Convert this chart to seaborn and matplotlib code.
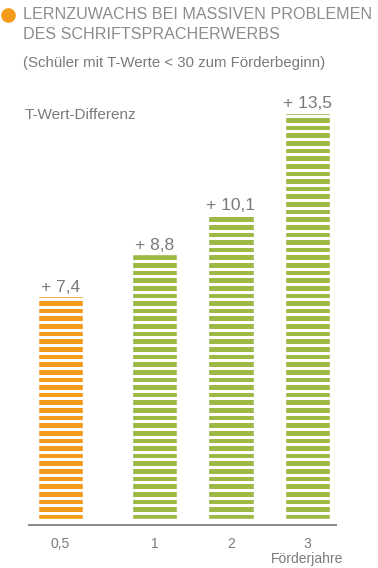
import pandas as pd
import matplotlib.pyplot as plt
from matplotlib.lines import Line2D
import seaborn as sns

# data
years = ["0,5", "1", "2", "3"]
t_diff = [7.4, 8.8, 10.1, 13.5]
value_labels = ["+ 7,4", "+ 8,8", "+ 10,1", "+ 13,5"]
tick_labels = ["0,5", "1", "2", "3\nFörderjahre"]

ORANGE = "#F49B1B"
GREEN = "#9BB944"
TXT = "#7a7a7a"

W, H = 378, 568
PX_PER_UNIT = 30.07      # vertical scale of the bars
PITCH = 7.63             # stripe pitch in px
GAP = 3.0                # white gap in px

sns.set_style("white")
plt.rcParams["font.family"] = ["Liberation Sans", "DejaVu Sans"]

fig = plt.figure(figsize=(W / 100, H / 100), dpi=100)
# axes from x=28..337 px, y=95..530 px
ax = fig.add_axes([28 / W, 1 - 530 / H, 309 / W, 435 / H])

df = pd.DataFrame({"years": years, "diff": t_diff})
sns.barplot(data=df, x="years", y="diff", hue="years",
            palette=[ORANGE, GREEN, GREEN, GREEN], legend=False,
            width=0.6, saturation=1, ax=ax)

ax.set_xlim(-0.654, 3.386)
ax.set_ylim(-11 / PX_PER_UNIT, 424 / PX_PER_UNIT)

# first bar sits a bit further left
shift = -0.229
bars = ax.patches
bars[0].set_x(bars[0].get_x() + shift)

# white stripes over each bar
for b in bars:
    h = b.get_height()
    ys = [(k * PITCH - GAP / 2) / PX_PER_UNIT
          for k in range(1, 80) if (k * PITCH - GAP / 2) / PX_PER_UNIT < h]
    ax.hlines(ys, b.get_x() - 0.01, b.get_x() + b.get_width() + 0.01,
              colors="white", linewidth=GAP * 0.72, zorder=2.5,
              antialiased=False)

for b, lab in zip(bars, value_labels):
    ax.annotate(lab, (b.get_x() + b.get_width() / 2, b.get_height()),
                xytext=(0, 3.5), textcoords="offset points",
                ha="center", va="baseline", fontsize=12.5, color=TXT, zorder=4)

# baseline
ax.axhline(-6 / PX_PER_UNIT, color="#8a8a8a", linewidth=1.4, zorder=3)

ax.set_xticks([shift, 1, 2, 3])
ax.set_xticklabels(tick_labels, fontsize=10, color=TXT, linespacing=1.1,
                   va="top")
ax.tick_params(axis="x", length=0, pad=5)
ax.set_yticks([])
ax.set_xlabel("")
ax.set_ylabel("")
sns.despine(ax=ax, left=True, bottom=True)

# headings
fig.add_artist(Line2D([8 / W], [1 - 14.5 / H], marker="o", markersize=9.5,
                      color=ORANGE, transform=fig.transFigure))
fig.text(23 / W, 1 - 19 / H, "LERNZUWACHS BEI MASSIVEN PROBLEMEN",
         fontsize=11.6, color="#8c8c8c", va="baseline")
fig.text(23 / W, 1 - 39 / H, "DES SCHRIFTSPRACHERWERBS",
         fontsize=11.6, color="#8c8c8c", va="baseline")
fig.text(23 / W, 1 - 67 / H, "(Schüler mit T-Werte < 30 zum Förderbeginn)",
         fontsize=10.8, color=TXT, va="baseline")
fig.text(25 / W, 1 - 119 / H, "T-Wert-Differenz",
         fontsize=11, color=TXT, va="baseline")

fig.savefig("out.png", dpi=100)
